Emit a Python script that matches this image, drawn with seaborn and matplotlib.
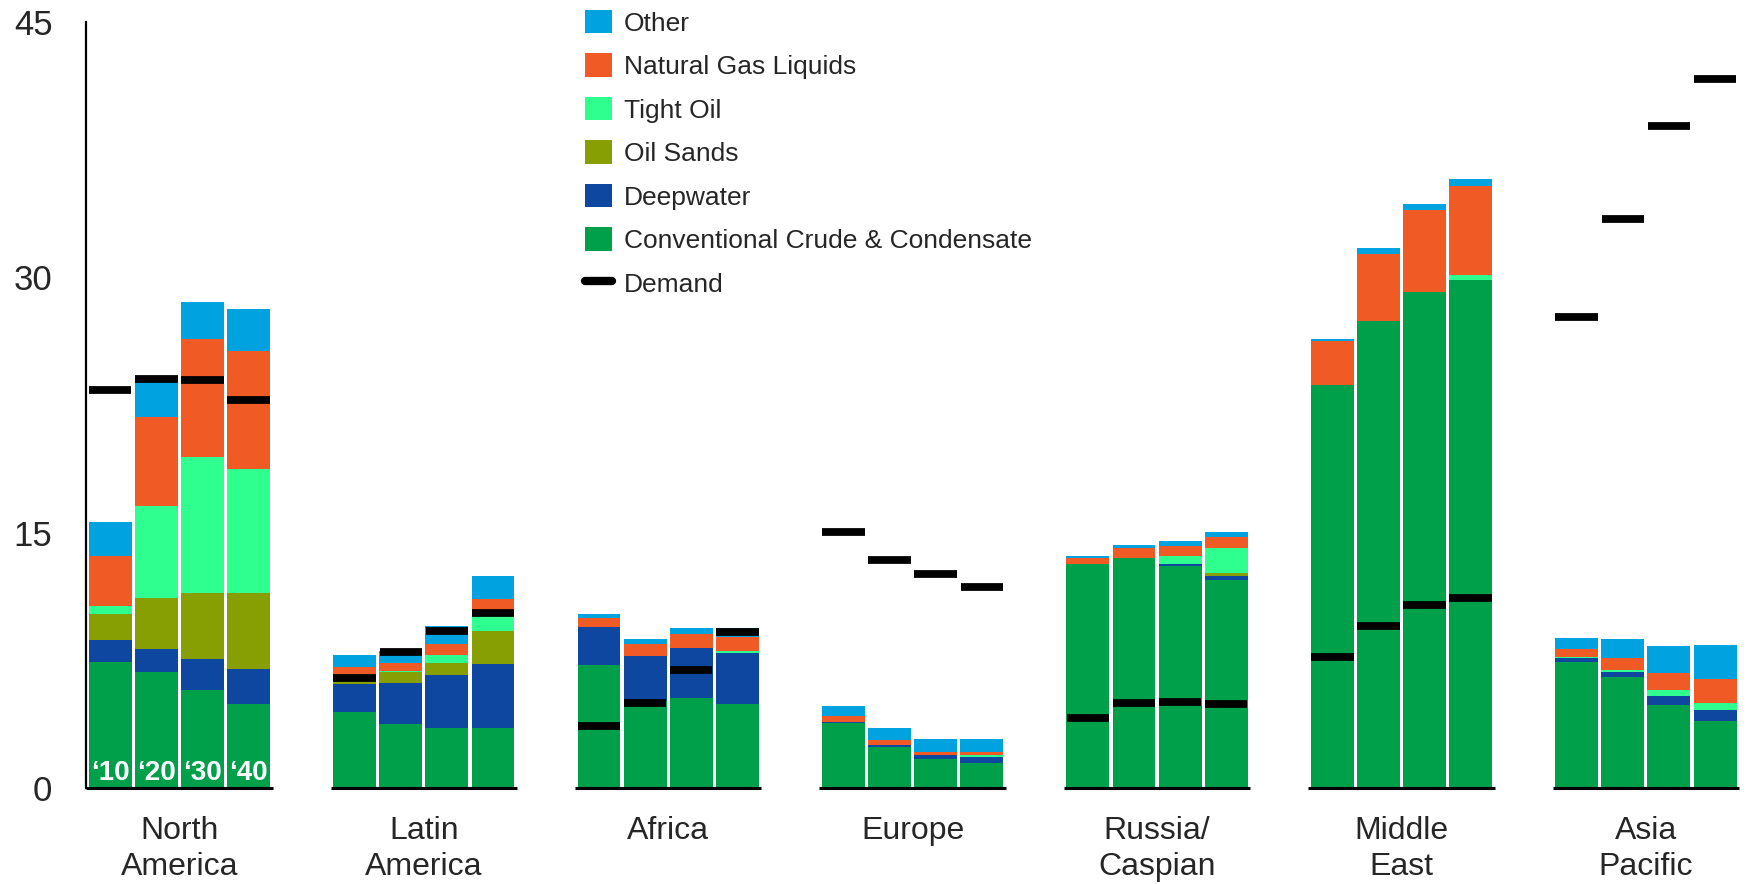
import numpy as np
import pandas as pd
import matplotlib
matplotlib.use("Agg")
import matplotlib.pyplot as plt
from matplotlib.patches import Patch
from matplotlib.lines import Line2D
import seaborn as sns

# Regions and years
regions = ["North\nAmerica", "Latin\nAmerica", "Africa", "Europe",
           "Russia/\nCaspian", "Middle\nEast", "Asia\nPacific"]
years = ["\u201810", "\u201820", "\u201830", "\u201840"]

# Supply by type, one row per region, one value per year
conventional = [[7.43, 6.80, 5.75, 4.91],
                [4.44, 3.75, 3.54, 3.54],
                [7.24, 5.13, 5.30, 4.93],
                [3.80, 2.39, 1.72, 1.49],
                [13.17, 13.54, 13.05, 12.22],
                [23.68, 27.46, 29.15, 29.85],
                [7.42, 6.52, 4.87, 3.91]]
deepwater = [[1.26, 1.37, 1.83, 2.08],
             [1.67, 2.42, 3.09, 3.72],
             [2.23, 2.60, 2.94, 3.03],
             [0.06, 0.13, 0.22, 0.35],
             [0.00, 0.00, 0.12, 0.22],
             [0.00, 0.00, 0.00, 0.00],
             [0.20, 0.27, 0.53, 0.66]]
oil_sands = [[1.52, 3.01, 3.85, 4.46],
             [0.58, 0.63, 0.74, 1.94],
             [0.00, 0.00, 0.00, 0.00],
             [0.00, 0.00, 0.00, 0.00],
             [0.00, 0.00, 0.00, 0.19],
             [0.00, 0.00, 0.00, 0.00],
             [0.00, 0.00, 0.00, 0.00]]
tight_oil = [[0.48, 5.41, 8.00, 7.27],
             [0.00, 0.08, 0.46, 0.90],
             [0.00, 0.00, 0.00, 0.10],
             [0.00, 0.00, 0.00, 0.08],
             [0.00, 0.00, 0.44, 1.47],
             [0.00, 0.00, 0.00, 0.30],
             [0.10, 0.16, 0.33, 0.40]]
ngl = [[2.95, 5.22, 6.95, 6.94],
       [0.44, 0.47, 0.63, 0.99],
       [0.51, 0.74, 0.80, 0.84],
       [0.37, 0.28, 0.17, 0.17],
       [0.34, 0.56, 0.61, 0.63],
       [2.61, 3.91, 4.80, 5.22],
       [0.46, 0.70, 1.02, 1.45]]
other = [[1.96, 2.04, 2.19, 2.49],
         [0.68, 0.67, 1.08, 1.37],
         [0.27, 0.30, 0.37, 0.51],
         [0.56, 0.70, 0.77, 0.81],
         [0.12, 0.17, 0.32, 0.29],
         [0.12, 0.36, 0.39, 0.43],
         [0.63, 1.09, 1.59, 1.96]]
demand = [[23.37, 24.02, 23.96, 22.78],
          [6.46, 8.00, 9.24, 10.29],
          [3.62, 5.01, 6.95, 9.14],
          [15.07, 13.40, 12.58, 11.82],
          [4.10, 4.98, 5.05, 4.93],
          [7.68, 9.51, 10.76, 11.17],
          [27.70, 33.44, 38.90, 41.66]]

series_names = ["Conventional Crude & Condensate", "Deepwater", "Oil Sands",
                "Tight Oil", "Natural Gas Liquids", "Other"]
series_values = [conventional, deepwater, oil_sands, tight_oil, ngl, other]
series_colors = ["#00A04B", "#0E47A0", "#889F04", "#2EFF8E", "#F05A24", "#00A2E0"]

group_step = 5.3
offsets = np.array([-1.5, -0.5, 0.5, 1.5])
centers = np.arange(len(regions)) * group_step

# long table of bar positions and cumulative tops
rows = []
for r in range(len(regions)):
    for y in range(len(years)):
        pos = round(centers[r] + offsets[y], 3)
        cum = 0.0
        rec = {"x": pos, "demand": demand[r][y]}
        for name, vals in zip(series_names, series_values):
            cum += vals[r][y]
            rec[name] = cum
        rows.append(rec)
df = pd.DataFrame(rows)

sns.set_style("white")
plt.rcParams["font.family"] = ["Liberation Sans", "DejaVu Sans"]

fig = plt.figure(figsize=(17.5, 8.84), dpi=100)
ax = fig.add_axes([0.049, 0.1086, 0.945, 0.8664])

# draw cumulative layers from top to bottom so each one covers the next
for name, color in reversed(list(zip(series_names, series_colors))):
    sns.barplot(data=df, x="x", y=name, native_scale=True, width=0.93,
                color=color, saturation=1, errorbar=None, linewidth=0, ax=ax)

# demand markers
ax.hlines(df["demand"], df["x"] - 0.46, df["x"] + 0.46, color="black",
          linewidth=5.6, zorder=5)

# baseline under each region group
for c in centers:
    ax.hlines(0, c - 2.02, c + 2.02, color="black", linewidth=2.2,
              zorder=6, clip_on=False)

# year labels inside the first group
for y, lab in enumerate(years):
    ax.text(centers[0] + offsets[y], 0.12, lab, color="white", fontsize=20,
            fontweight="bold", ha="center", va="bottom", zorder=7)

ax.set_xlim(centers[0] - 2.03, centers[-1] + 2.03)
ax.set_ylim(0, 45)
ax.set_yticks([0, 15, 30, 45])
ax.set_xticks(centers)
ax.set_xticklabels(regions, linespacing=1.28)
ax.set_xlabel("")
ax.set_ylabel("")
ax.tick_params(axis="y", length=0, pad=24, labelsize=25)
ax.tick_params(axis="x", length=0, pad=20, labelsize=23)

for s in ["top", "right", "bottom"]:
    ax.spines[s].set_visible(False)
ax.spines["left"].set_color("black")
ax.spines["left"].set_linewidth(1.6)

handles = [Patch(facecolor=c, edgecolor="none") for c in reversed(series_colors)]
handles.append(Line2D([0], [0], color="black", linewidth=6))
labels = list(reversed(series_names)) + ["Demand"]
fig.legend(handles, labels, loc="upper left", bbox_to_anchor=(0.327, 1.004),
           frameon=False, fontsize=19, handlelength=1.0, handleheight=1.0,
           handletextpad=0.45, labelspacing=0.67, borderpad=0)

fig.savefig("out.png", dpi=100)
